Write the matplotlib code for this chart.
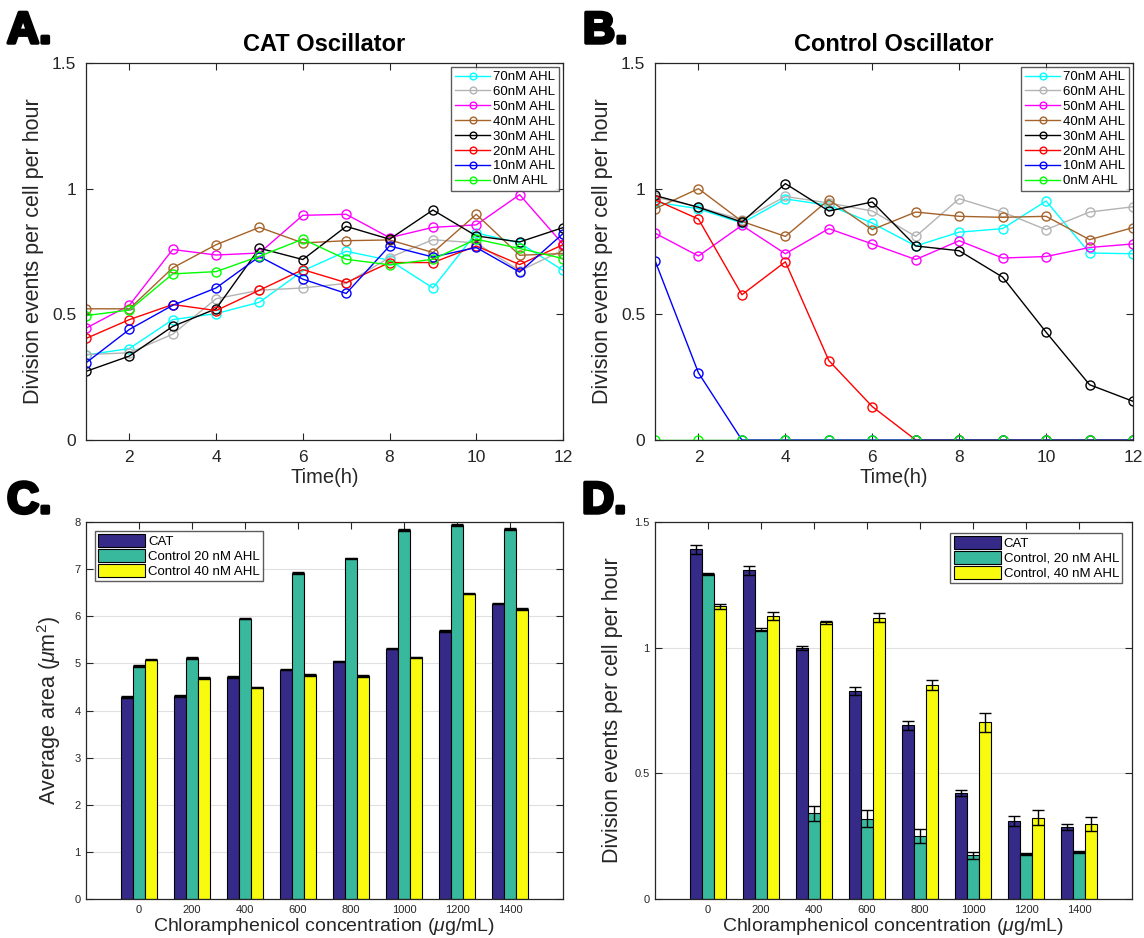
import matplotlib
matplotlib.use("Agg")
import matplotlib.pyplot as plt
import matplotlib.patheffects as pe
import numpy as np

plt.rcParams['font.family'] = ['Liberation Sans', 'DejaVu Sans']
plt.rcParams['mathtext.fontset'] = 'custom'
plt.rcParams['mathtext.it'] = 'Liberation Sans:italic'
plt.rcParams['mathtext.rm'] = 'Liberation Sans'

# ---------------- data ----------------
hours = list(range(1, 13))
conc_labels = ["70nM AHL", "60nM AHL", "50nM AHL", "40nM AHL",
               "30nM AHL", "20nM AHL", "10nM AHL", "0nM AHL"]
line_colors = ["#00ffff", "#b3b3b3", "#ff00ff", "#a5632a",
               "#000000", "#ff0000", "#0000ff", "#00ff00"]

cat_70 = [0.338, 0.364, 0.479, 0.503, 0.548, 0.673, 0.751, 0.715, 0.605, 0.824, 0.784, 0.675]
cat_60 = [0.340, 0.347, 0.421, 0.562, 0.596, 0.605, 0.623, 0.726, 0.797, 0.784, 0.673, 0.755]
cat_50 = [0.445, 0.536, 0.758, 0.736, 0.744, 0.894, 0.898, 0.805, 0.846, 0.856, 0.976, 0.779]
cat_40 = [0.522, 0.522, 0.685, 0.777, 0.846, 0.784, 0.793, 0.796, 0.746, 0.898, 0.735, 0.742]
cat_30 = [0.273, 0.334, 0.452, 0.522, 0.763, 0.718, 0.850, 0.799, 0.915, 0.812, 0.788, 0.845]
cat_20 = [0.404, 0.479, 0.539, 0.515, 0.596, 0.678, 0.626, 0.706, 0.706, 0.772, 0.698, 0.777]
cat_10 = [0.307, 0.440, 0.536, 0.605, 0.730, 0.640, 0.583, 0.772, 0.728, 0.766, 0.668, 0.821]
cat_0 = [0.495, 0.517, 0.661, 0.670, 0.731, 0.799, 0.719, 0.697, 0.719, 0.799, 0.762, 0.722]

ctl_70 = [0.947, 0.920, 0.863, 0.959, 0.934, 0.863, 0.772, 0.827, 0.841, 0.951, 0.744, 0.741]
ctl_60 = [0.967, 0.927, 0.876, 0.969, 0.943, 0.911, 0.810, 0.960, 0.907, 0.837, 0.907, 0.928]
ctl_50 = [0.823, 0.732, 0.854, 0.741, 0.841, 0.780, 0.718, 0.793, 0.724, 0.730, 0.766, 0.780]
ctl_40 = [0.920, 1.000, 0.870, 0.810, 0.956, 0.837, 0.907, 0.890, 0.886, 0.890, 0.797, 0.845]
ctl_30 = [0.973, 0.926, 0.867, 1.020, 0.911, 0.947, 0.772, 0.753, 0.648, 0.429, 0.220, 0.154]
ctl_20 = [0.956, 0.879, 0.578, 0.709, 0.316, 0.133, 0.0, 0.0, 0.0, 0.0, 0.0, 0.0]
ctl_10 = [0.714, 0.267, 0.0, 0.0, 0.0, 0.0, 0.0, 0.0, 0.0, 0.0, 0.0, 0.0]
ctl_0 = [0.0, 0.0, 0.0, 0.0, 0.0, 0.0, 0.0, 0.0, 0.0, 0.0, 0.0, 0.0]

cat_series = [cat_70, cat_60, cat_50, cat_40, cat_30, cat_20, cat_10, cat_0]
ctl_series = [ctl_70, ctl_60, ctl_50, ctl_40, ctl_30, ctl_20, ctl_10, ctl_0]

chlor = ["0", "200", "400", "600", "800", "1000", "1200", "1400"]
bar_colors = ["#352a87", "#38b99e", "#f9fb0e"]

area_labels = ["CAT", "Control 20 nM AHL", "Control 40 nM AHL"]
area_cat = [4.29, 4.31, 4.71, 4.87, 5.04, 5.31, 5.69, 6.27]
area_c20 = [4.94, 5.11, 5.95, 6.92, 7.23, 7.83, 7.94, 7.86]
area_c40 = [5.08, 4.69, 4.49, 4.75, 4.73, 5.13, 6.48, 6.15]
area_cat_err = [0.015, 0.015, 0.015, 0.015, 0.015, 0.015, 0.015, 0.015]
area_c20_err = [0.015, 0.015, 0.015, 0.015, 0.015, 0.02, 0.02, 0.02]
area_c40_err = [0.015, 0.015, 0.015, 0.015, 0.015, 0.015, 0.015, 0.015]

div_labels = ["CAT", "Control, 20 nM AHL", "Control, 40 nM AHL"]
div_cat = [1.391, 1.308, 1.000, 0.828, 0.691, 0.422, 0.312, 0.286]
div_c20 = [1.292, 1.072, 0.342, 0.320, 0.251, 0.174, 0.180, 0.187]
div_c40 = [1.164, 1.126, 1.101, 1.119, 0.851, 0.703, 0.324, 0.300]
div_cat_err = [0.017, 0.017, 0.008, 0.015, 0.018, 0.013, 0.020, 0.013]
div_c20_err = [0.004, 0.007, 0.030, 0.033, 0.029, 0.014, 0.004, 0.003]
div_c40_err = [0.010, 0.017, 0.006, 0.017, 0.020, 0.038, 0.030, 0.028]

# ---------------- figure ----------------
W, H = 1144, 938
fig = plt.figure(figsize=(W / 100, H / 100), dpi=100)


def ax_px(left, top, right, bottom):
    return fig.add_axes([left / W, 1 - bottom / H, (right - left) / W, (bottom - top) / H])


spine_col = "#262626"
text_col = "#262626"


def style(ax, tick_size, pad):
    for s in ax.spines.values():
        s.set_color(spine_col)
        s.set_linewidth(0.9)
    ax.tick_params(direction='in', top=True, right=True, length=5, width=0.8,
                   colors=spine_col, labelsize=tick_size, labelcolor=text_col, pad=pad)


def line_panel(ax, series, title):
    for vals, lab, col in zip(series, conc_labels, line_colors):
        ax.plot(hours, vals, '-o', color=col, lw=1.0, ms=6.5, mfc='none', mew=1.0, label=lab)
    ax.set_xlim(1, 12)
    ax.set_ylim(0, 1.5)
    ax.set_xticks([2, 4, 6, 8, 10, 12])
    ax.set_yticks([0, 0.5, 1, 1.5])
    ax.set_yticklabels(["0", "0.5", "1", "1.5"])
    style(ax, 12.5, 7)
    ax.set_xlabel("Time(h)", fontsize=14.5, color=text_col, labelpad=2)
    ax.set_ylabel("Division events per cell per hour", fontsize=15.5, color=text_col, labelpad=6)
    ax.set_title(title, fontsize=17, fontweight='bold', pad=9)
    leg = ax.legend(loc='upper right', fontsize=9.5, frameon=True, fancybox=False,
                    edgecolor='#333333', borderpad=0.3, labelspacing=0.2, handlelength=2.6,
                    handletextpad=0.25, borderaxespad=0.3, markerscale=0.75)
    leg.get_frame().set_linewidth(1.0)


axA = ax_px(86, 63, 563, 440)
line_panel(axA, cat_series, "CAT Oscillator")
axB = ax_px(655, 63, 1133, 440)
line_panel(axB, ctl_series, "Control Oscillator")


def bar_panel(ax, vals, errs, labels, ylim, yticks, yticklabels, ylabel, legloc, bbox):
    x = np.arange(1, len(chlor) + 1)
    w = 0.223
    for i, (v, e, lab, col) in enumerate(zip(vals, errs, labels, bar_colors)):
        ax.bar(x + (i - 1) * w, v, width=w, color=col, edgecolor='black', linewidth=0.8,
               label=lab, zorder=2)
        ax.errorbar(x + (i - 1) * w, v, yerr=e, fmt='none', ecolor='black', elinewidth=1.0,
                    capsize=4, capthick=1.0, zorder=3)
    ax.set_xlim(0, 9)
    ax.set_ylim(*ylim)
    ax.set_xticks(x)
    ax.set_xticklabels(chlor)
    ax.set_yticks(yticks)
    ax.set_yticklabels(yticklabels)
    ax.yaxis.grid(True, color='#e0e0e0', lw=0.8, zorder=0)
    ax.set_axisbelow(True)
    style(ax, 8, 4)
    ax.set_xlabel(r"Chloramphenicol concentration ($\mu$g/mL)", fontsize=14, color=text_col, labelpad=1)
    ax.set_ylabel(ylabel, fontsize=15.5, color=text_col, labelpad=8)
    leg = ax.legend(loc=legloc, bbox_to_anchor=bbox, fontsize=9.5, frameon=True, fancybox=False,
                    edgecolor='#333333', borderpad=0.25, labelspacing=0.1, handlelength=3.6,
                    handleheight=1.1, handletextpad=0.2, borderaxespad=0.0)
    leg.get_frame().set_linewidth(1.0)


axC = ax_px(86, 522, 563, 899)
bar_panel(axC, [area_cat, area_c20, area_c40], [area_cat_err, area_c20_err, area_c40_err],
          area_labels, (0, 8), list(range(0, 9)), [str(i) for i in range(0, 9)],
          r"Average area ($\mu$m$^2$)", 'upper left', (0.018, 0.977))
axD = ax_px(655, 522, 1132, 899)
bar_panel(axD, [div_cat, div_c20, div_c40], [div_cat_err, div_c20_err, div_c40_err],
          div_labels, (0, 1.5), [0, 0.5, 1, 1.5], ["0", "0.5", "1", "1.5"],
          "Division events per cell per hour", 'upper right', (0.98, 0.972))

# panel letters
for lab, xp, yp in [("A.", 7, 43), ("B.", 583, 43), ("C.", 7, 513), ("D.", 582, 513)]:
    t = fig.text(xp / W, 1 - yp / H, lab, fontsize=32, fontweight='bold', color='black',
                 ha='left', va='baseline')
    t.set_path_effects([pe.withStroke(linewidth=2.5, foreground='black')])

fig.savefig("out.png", dpi=100)
